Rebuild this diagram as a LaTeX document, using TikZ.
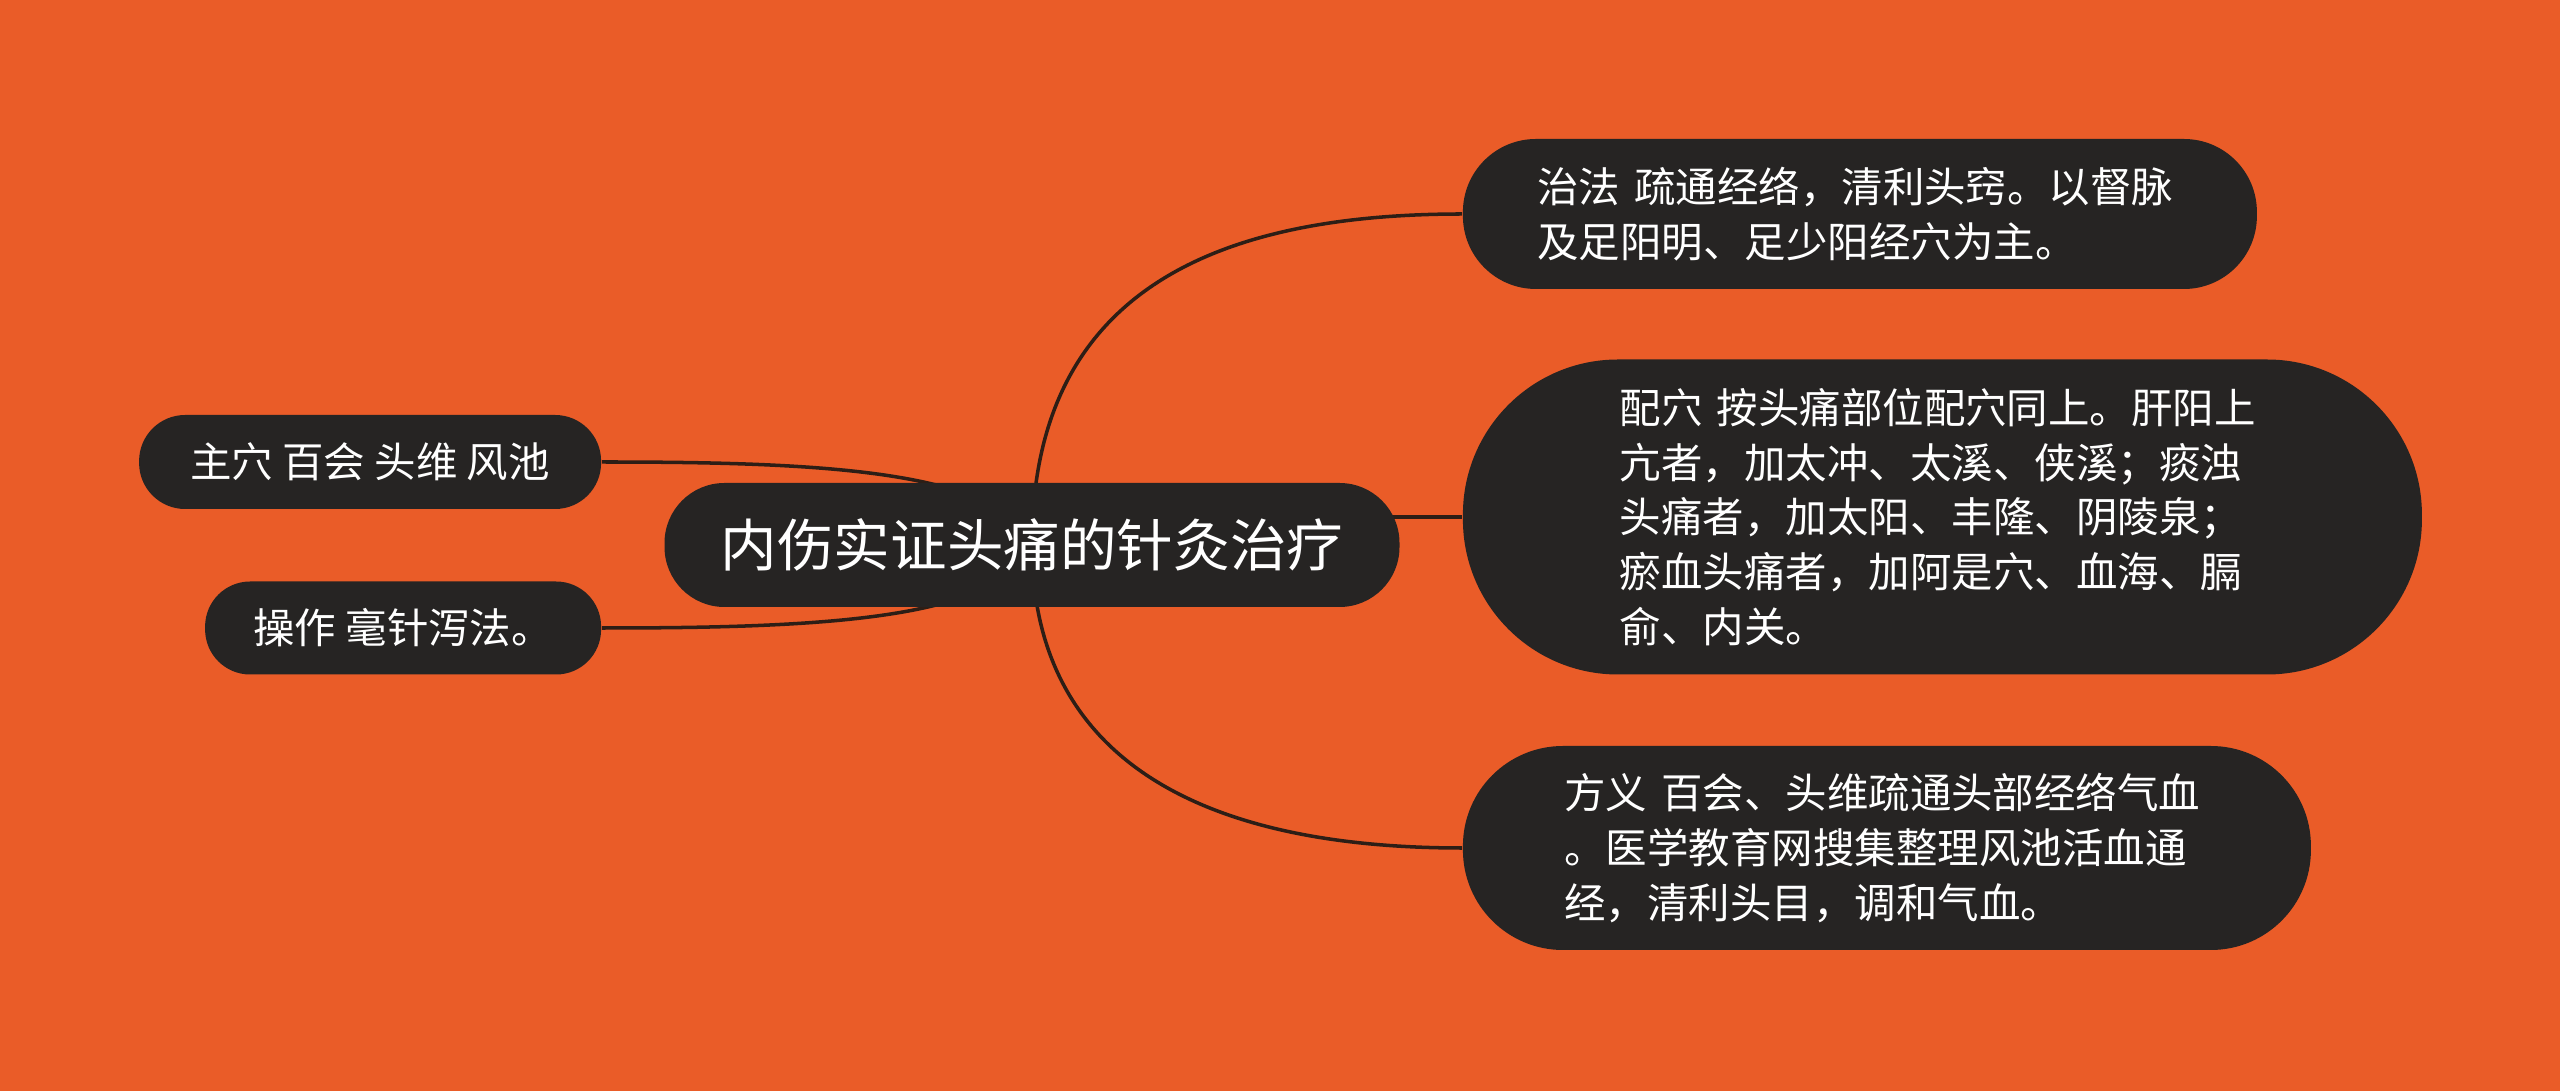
\documentclass[tikz,border=0pt]{standalone}
\usepackage{fontspec}
\setmainfont{Noto Sans CJK SC}
\usetikzlibrary{positioning}
\definecolor{bgorange}{RGB}{234,92,40}
\definecolor{nodedark}{RGB}{38,36,35}
\definecolor{linedark}{RGB}{45,30,22}
\pgfdeclarelayer{background}
\pgfsetlayers{background,main}
\tikzstyle{topic} = [rectangle, fill=nodedark, text=white, inner sep=0pt, minimum width=7.35cm, minimum height=1.24cm, rounded corners=0.6cm, font=\fontsize{16.1}{20}\selectfont]
\tikzstyle{leaf} = [rectangle, fill=nodedark, text=white, inner sep=0pt, font=\fontsize{11.8}{15.6}\selectfont]
\tikzstyle{para} = [text width=6.45cm, align=left]
\tikzstyle{branch} = [line width=1pt, draw=linedark]

\begin{document}
\begin{tikzpicture}
	\useasboundingbox (0,0) rectangle (25.6,10.91);

	% Central topic
	\node (root) [topic] at (10.32,5.46) {内伤实证头痛的针灸治疗};

	% Right branches
	\node (zhifa) [leaf, para, right=0.62cm of root, yshift=3.31cm, minimum width=7.94cm, minimum height=1.5cm, rounded corners=0.73cm] {治法~疏通经络，清利头窍。以督脉\\及足阳明、足少阳经穴为主。};
	\node (peixue) [leaf, para, right=0.62cm of root, yshift=0.28cm, minimum width=9.59cm, minimum height=3.15cm, rounded corners=1.55cm] {配穴~按头痛部位配穴同上。肝阳上\\亢者，加太冲、太溪、侠溪；痰浊\\头痛者，加太阳、丰隆、阴陵泉；\\瘀血头痛者，加阿是穴、血海、膈\\俞、内关。};
	\node (fangyi) [leaf, para, right=0.62cm of root, yshift=-3.03cm, minimum width=8.48cm, minimum height=2.04cm, rounded corners=1cm] {方义~百会、头维疏通头部经络气血\\。医学教育网搜集整理风池活血通\\经，清利头目，调和气血。};

	% Left branches
	\node (zhuxue) [leaf, left=0.62cm of root, yshift=0.83cm, minimum width=4.62cm, minimum height=0.94cm, rounded corners=0.46cm] {主穴 百会 头维 风池};
	\node (caozuo) [leaf, left=0.62cm of root, yshift=-0.83cm, minimum width=3.96cm, minimum height=0.93cm, rounded corners=0.45cm] {操作 毫针泻法。};

	\begin{pgfonlayer}{background}
		\fill[bgorange] (0,0) rectangle (25.6,10.91);

		% Connectors
		\draw[branch] (root.center) .. controls +(0,2.45) and +(-2.6,0) .. (zhifa.west);
		\draw[branch] (root.center |- peixue.west) -- (peixue.west);
		\draw[branch] (root.center) .. controls +(0,-2.15) and +(-2.6,0) .. (fangyi.west);
		\draw[branch] (root.center) .. controls +(-0.32,0.75) and +(2.18,0) .. (zhuxue.east);
		\draw[branch] (root.center) .. controls +(-0.32,-0.75) and +(2.18,0) .. (caozuo.east);
	\end{pgfonlayer}

\end{tikzpicture}
\end{document}
